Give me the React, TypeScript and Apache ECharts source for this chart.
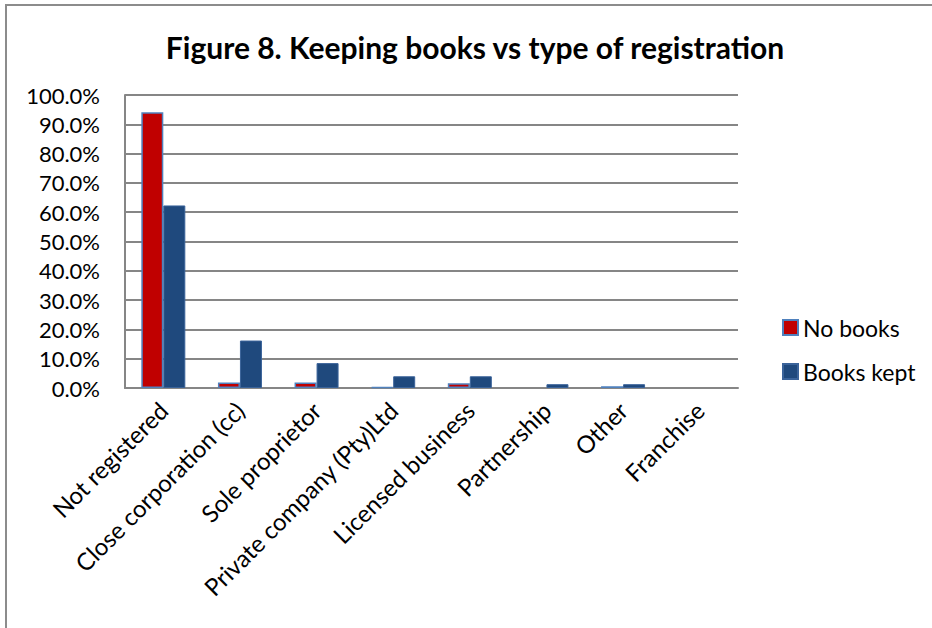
import React, { useEffect, useRef } from "react";
import * as echarts from "echarts";

const categories = [
  "Not registered",
  "Close corporation (cc)",
  "Sole proprietor",
  "Private company (Pty)Ltd",
  "Licensed business",
  "Partnership",
  "Other",
  "Franchise",
];
const noBooks = [94.1, 1.9, 1.9, 0.3, 1.6, 0, 0.6, 0];
const booksKept = [62.3, 16.2, 8.5, 4.0, 4.0, 1.3, 1.3, 0];
const yTicks = { min: 0, max: 100, interval: 10 };

const FONT = "Lato, 'Open Sans', sans-serif";

const toData = (arr: number[]) =>
  arr.map((v) => (v === 0 ? { value: v, itemStyle: { borderWidth: 0, opacity: 0 } } : v));

export default function App() {
  const ref = useRef<HTMLDivElement>(null);
  useEffect(() => {
    if (!ref.current) return;
    const chart = echarts.init(ref.current, undefined, { renderer: "svg" });
    chart.setOption({
      animation: false,
      backgroundColor: "#ffffff",
      title: {
        text: "Figure 8. Keeping books vs type of registration",
        left: 470,
        top: 27,
        textAlign: "center",
        textStyle: { fontFamily: FONT, fontSize: 30, fontWeight: "bold", color: "#000" },
      },
      graphic: [
        {
          type: "rect",
          shape: { x: 6, y: 5, width: 960, height: 660 },
          style: { fill: "none", stroke: "#8c8c8c", lineWidth: 2 },
          silent: true,
        },
      ],
      legend: {
        orient: "vertical",
        left: 777,
        top: 311,
        itemWidth: 15,
        itemHeight: 15,
        itemGap: 21,
        icon: "rect",
        textStyle: { fontFamily: FONT, fontSize: 23, color: "#000" },
        data: ["No books", "Books kept"],
      },
      grid: { left: 125, top: 95, right: 194, bottom: 240, containLabel: false },
      xAxis: {
        type: "category",
        data: categories,
        axisLine: { lineStyle: { color: "#868686", width: 2 } },
        axisTick: { show: false },
        axisLabel: {
          rotate: 45,
          interval: 0,
          margin: 18,
          fontFamily: FONT,
          fontSize: 24,
          color: "#000",
        },
      },
      yAxis: {
        type: "value",
        min: yTicks.min,
        max: yTicks.max,
        interval: yTicks.interval,
        axisLine: { show: true, lineStyle: { color: "#868686", width: 2 } },
        axisTick: { show: false },
        splitLine: { lineStyle: { color: "#868686", width: 2 } },
        axisLabel: {
          formatter: (v: number) => v.toFixed(1) + "%",
          fontFamily: FONT,
          fontSize: 22,
          color: "#000",
          margin: 25,
        },
      },
      series: [
        {
          name: "No books",
          type: "bar",
          data: toData(noBooks),
          barWidth: 22,
          barGap: "0%",
          itemStyle: { color: "#c00000", borderColor: "#4f81bd", borderWidth: 1.5 },
        },
        {
          name: "Books kept",
          type: "bar",
          data: toData(booksKept),
          barWidth: 22,
          itemStyle: { color: "#1f497d", borderColor: "#3a639a", borderWidth: 1 },
        },
      ],
    });
    return () => chart.dispose();
  }, []);
  return (
    <div
      ref={ref}
      style={{ position: "fixed", left: 0, top: 0, width: 932, height: 628 }}
    />
  );
}
